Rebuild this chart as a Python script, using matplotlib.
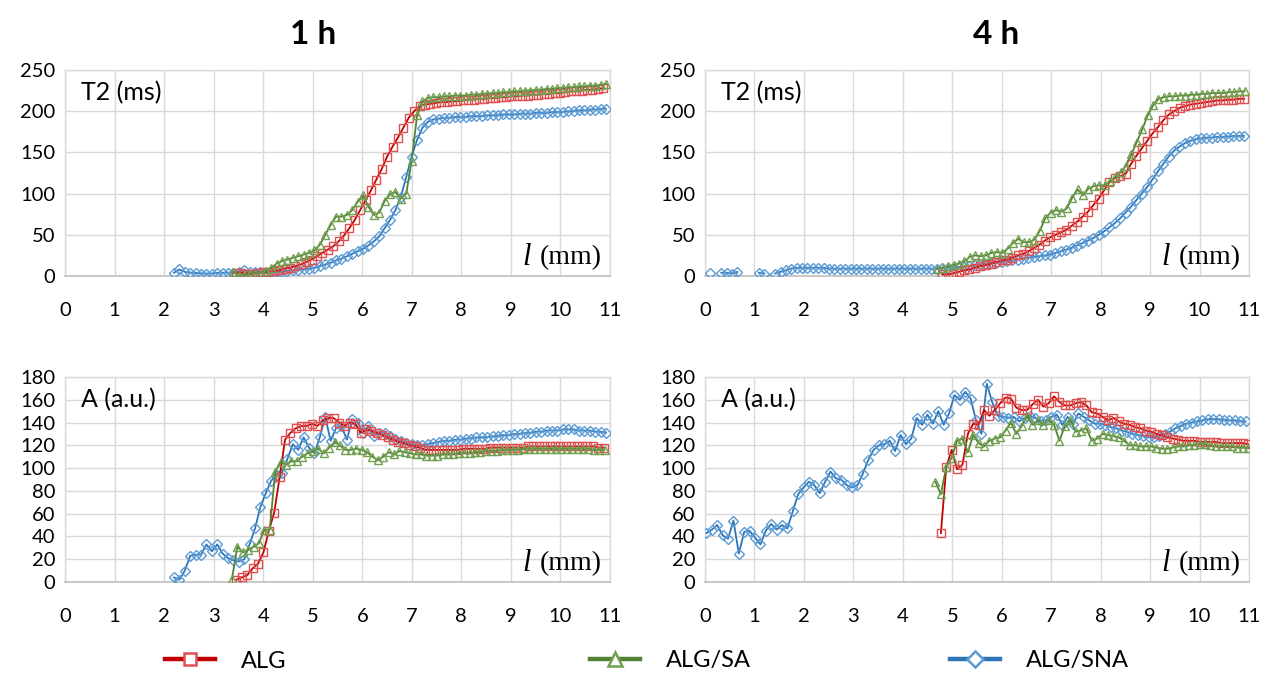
import numpy as np
import matplotlib
matplotlib.use("Agg")
import matplotlib.pyplot as plt
from matplotlib.lines import Line2D

STEP = 0.109
nan = np.nan

# ---------------- 1 h : T2 (ms) ----------------
t2_1h_alg_x0 = 3.45
t2_1h_alg = [4, 4, 3, 3, 4, 5, 5, 6, 7, 9, 10, 12, 14, 17, 20, 24, 28, 32, 36, 42,
             49, 58, 68, 80, 92, 104, 117, 130, 145, 157, 168, 180, 192, 200, 206, 208, 209, 210, 211, 211,
             212, 212, 213, 214, 214, 215, 215, 216, 216, 217, 217, 218, 218, 219, 219, 220, 220, 221, 221, 222,
             222, 223, 224, 224, 225, 226, 226, 227, 228]
t2_1h_sa_x0 = 3.40
t2_1h_sa = [5, 0, 1, 2, 3, 4, 6, 10, 15, 18, 20, 22, 24, 26, 28, 31, 38, 50, 62, 72,
            72, 74, 80, 90, 98, 84, 74, 77, 91, 99, 102, 94, 100, 140, 195, 212, 216, 217, 217, 218,
            218, 219, 219, 219, 220, 220, 221, 221, 222, 222, 223, 223, 224, 224, 225, 225, 226, 226, 227, 227,
            228, 228, 229, 229, 230, 230, 231, 231, 232, 233]
t2_1h_sna_x0 = 2.20
t2_1h_sna = [4, 8, 5, 4, 4, 3, 3, 3, 4, 4, 4, 4, 5, 7, 5, 5, 5, 4, 4, 5,
             5, 6, 7, 7, 8, 9, 10, 12, 14, 16, 19, 21, 24, 27, 30, 33, 37, 42, 48, 58,
             68, 80, 96, 120, 145, 165, 180, 187, 190, 191, 192, 192, 193, 193, 193, 194, 194, 194, 195, 195,
             195, 196, 196, 196, 197, 197, 197, 198, 198, 198, 199, 199, 199, 200, 200, 201, 201, 202, 202, 203,
             203]

# ---------------- 4 h : T2 (ms) ----------------
t2_4h_alg_x0 = 4.80
t2_4h_alg = [2, 2, 3, 5, 7, 8, 10, 12, 13, 15, 17, 19, 20, 22, 25, 27, 30, 34, 38, 43,
             47, 50, 53, 56, 61, 66, 72, 78, 86, 94, 104, 114, 119, 121, 124, 136, 146, 155, 164, 173,
             181, 189, 196, 200, 204, 206, 208, 209, 210, 211, 212, 213, 213, 214, 214, 215, 215]
t2_4h_sa_x0 = 4.70
t2_4h_sa = [9, 10, 12, 13, 15, 18, 23, 25, 24, 25, 28, 29, 28, 33, 40, 45, 41, 41, 44, 55,
            70, 77, 80, 78, 82, 95, 105, 98, 106, 109, 110, 110, 115, 120, 126, 134, 148, 163, 178, 195,
            207, 215, 217, 218, 218, 219, 219, 220, 220, 221, 221, 222, 222, 222, 223, 223, 224, 224]
t2_4h_sna_x0 = 0.11
t2_4h_sna = [4, nan, 4, 4, 3, 5, nan, nan, nan, 4, 3, nan, 3, 5, 7, 9, 10, 10, 10, 10,
             10, 10, 9, 9, 9, 9, 9, 9, 9, 9, 9, 9, 9, 9, 9, 9, 9, 9, 9, 9,
             9, 9, 9, 10, 10, 10, 11, 11, 12, 13, 14, 15, 16, 16, 17, 18, 19, 20, 21, 22,
             23, 24, 25, 26, 28, 30, 32, 34, 37, 40, 43, 46, 50, 54, 59, 64, 70, 77, 84, 92,
             100, 108, 117, 127, 136, 145, 152, 157, 161, 164, 166, 167, 168, 168, 169, 169, 169, 170, 170, 170]

# ---------------- 1 h : A (a.u.) ----------------
a_1h_alg_x0 = 3.46
a_1h_alg = [2, 4, 6, 12, 16, 26, 45, 61, 92, 125, 131, 135, 137, 137, 139, 137, 142, 144, 144, 140,
            137, 140, 139, 131, 134, 133, 131, 129, 127, 125, 123, 122, 120, 119, 118, 116, 116, 116, 116, 116,
            116, 116, 117, 117, 117, 117, 117, 118, 118, 118, 118, 118, 118, 118, 119, 119, 119, 119, 119, 119,
            119, 119, 119, 119, 119, 119, 119, 118, 118]
a_1h_sa_x0 = 3.37
a_1h_sa = [3, 31, 26, 28, 31, 34, 46, 46, 97, 105, 103, 106, 106, 110, 113, 115, 117, 113, 118, 123,
           120, 116, 116, 117, 116, 114, 110, 107, 110, 114, 112, 115, 114, 113, 112, 112, 111, 111, 111, 112,
           112, 112, 113, 113, 113, 114, 114, 115, 115, 115, 116, 116, 116, 116, 117, 117, 117, 117, 117, 117,
           117, 117, 117, 117, 117, 117, 117, 116, 116, 116]
a_1h_sna_x0 = 2.20
a_1h_sna = [4, 2, 10, 23, 24, 24, 33, 27, 33, 25, 21, 19, 18, 20, 33, 47, 66, 78, 89, 94,
            96, 108, 121, 116, 127, 118, 113, 127, 145, 124, 135, 137, 125, 143, 140, 131, 137, 128, 131, 131,
            128, 126, 124, 122, 121, 120, 120, 121, 122, 123, 124, 124, 125, 125, 126, 126, 127, 127, 127, 128,
            128, 129, 129, 130, 130, 131, 131, 132, 132, 133, 133, 133, 134, 134, 134, 133, 133, 133, 132, 132,
            131]

# ---------------- 4 h : A (a.u.) ----------------
a_4h_alg_x0 = 4.77
a_4h_alg = [43, 101, 116, 99, 103, 130, 139, 138, 151, 146, 151, 157, 162, 161, 153, 151, 151, 156, 160, 154,
            157, 163, 158, 155, 155, 157, 158, 155, 149, 148, 145, 142, 144, 141, 139, 138, 136, 135, 133, 132,
            130, 129, 127, 126, 125, 124, 124, 124, 123, 123, 123, 123, 122, 122, 122, 122, 122, 121]
a_4h_sa_x0 = 4.66
a_4h_sa = [88, 77, 101, 109, 124, 126, 114, 129, 122, 119, 124, 126, 127, 133, 140, 130, 137, 146, 138, 142,
           138, 142, 138, 124, 137, 142, 132, 133, 135, 124, 126, 130, 129, 128, 127, 124, 120, 120, 119, 119,
           119, 118, 117, 117, 118, 119, 119, 120, 120, 121, 121, 120, 119, 119, 119, 119, 118, 118, 118]
a_4h_sna_x0 = 0.03
a_4h_sna = [43, 46, 50, 41, 38, 54, 25, 44, 45, 39, 33, 45, 51, 46, 50, 47, 62, 77, 83, 88,
            85, 78, 88, 97, 91, 90, 85, 83, 85, 95, 107, 116, 120, 121, 124, 115, 129, 121, 126, 144,
            138, 147, 139, 150, 138, 148, 164, 160, 167, 161, 142, 130, 174, 158, 146, 145, 144, 145, 141, 144,
            146, 144, 141, 142, 145, 147, 138, 145, 139, 148, 145, 142, 139, 139, 138, 136, 135, 133, 132, 130,
            129, 128, 127, 127, 128, 130, 132, 135, 137, 139, 140, 141, 142, 143, 143, 143, 142, 142, 142, 141,
            141]

series_names = ["ALG", "ALG/SA", "ALG/SNA"]
x_ticks = list(range(0, 12))
t2_ticks = [0, 50, 100, 150, 200, 250]
a_ticks = [0, 20, 40, 60, 80, 100, 120, 140, 160, 180]

# ---------------- styling ----------------
W, H = 1264, 677
fig = plt.figure(figsize=(W / 100, H / 100), dpi=100)
FONT = ["Lato", "DejaVu Sans"]
SERIF = ["Liberation Serif", "DejaVu Serif"]

styles = {
    "ALG": dict(color="#C00000", marker="s", mec="#E05050", ms=5.4),
    "ALG/SA": dict(color="#548235", marker="^", mec="#70A050", ms=6.4),
    "ALG/SNA": dict(color="#2E75B6", marker="D", mec="#5B9BD5", ms=4.8),
}
GRID = "#D9D9D9"


def px_axes(x0, x1, ytop, ybot):
    return fig.add_axes([x0 / W, 1 - ybot / H, (x1 - x0) / W, (ybot - ytop) / H])


def series_x(x0, vals):
    return x0 + STEP * np.arange(len(vals))


def draw_panel(ax, data, yticks, label):
    for name in ["ALG/SNA", "ALG", "ALG/SA"]:
        x0, vals = data[name]
        st = styles[name]
        ax.plot(series_x(x0, vals), np.array(vals, dtype=float), color=st["color"], lw=1.3,
                marker=st["marker"], ms=st["ms"], mfc="none", mec=st["mec"], mew=1.0, zorder=3)
    ax.set_xlim(0, 11)
    ax.set_ylim(yticks[0], yticks[-1])
    ax.set_xticks(x_ticks)
    ax.set_yticks(yticks)
    ax.grid(True, color=GRID, lw=1.0, zorder=0)
    ax.set_axisbelow(True)
    for s in ["top", "right", "left"]:
        ax.spines[s].set_color(GRID)
        ax.spines[s].set_linewidth(1.0)
    ax.spines["bottom"].set_color("#BFBFBF")
    ax.spines["bottom"].set_linewidth(1.2)
    ax.tick_params(axis="both", length=0, labelsize=14.5, labelcolor="#000000")
    ax.tick_params(axis="x", pad=19)
    ax.tick_params(axis="y", pad=7)
    for t in ax.get_xticklabels() + ax.get_yticklabels():
        t.set_fontfamily(FONT)
    ax.text(0.03, 0.89, label, transform=ax.transAxes, fontsize=18, family=FONT,
            ha="left", va="center")
    ax.text(0.985, 0.09, "(mm)", transform=ax.transAxes, fontsize=20,
            family=SERIF, ha="right", va="center")
    ax.text(0.985 - 0.13, 0.09, "l", transform=ax.transAxes, fontsize=22,
            family=SERIF, style="italic", ha="right", va="center")


ax_tl = px_axes(65, 610, 70, 276)
ax_tr = px_axes(705, 1249, 70, 276)
ax_bl = px_axes(65, 610, 377, 582)
ax_br = px_axes(705, 1249, 377, 582)

draw_panel(ax_tl, {"ALG": (t2_1h_alg_x0, t2_1h_alg), "ALG/SA": (t2_1h_sa_x0, t2_1h_sa),
                   "ALG/SNA": (t2_1h_sna_x0, t2_1h_sna)}, t2_ticks, "T2 (ms)")
draw_panel(ax_tr, {"ALG": (t2_4h_alg_x0, t2_4h_alg), "ALG/SA": (t2_4h_sa_x0, t2_4h_sa),
                   "ALG/SNA": (t2_4h_sna_x0, t2_4h_sna)}, t2_ticks, "T2 (ms)")
draw_panel(ax_bl, {"ALG": (a_1h_alg_x0, a_1h_alg), "ALG/SA": (a_1h_sa_x0, a_1h_sa),
                   "ALG/SNA": (a_1h_sna_x0, a_1h_sna)}, a_ticks, "A (a.u.)")
draw_panel(ax_br, {"ALG": (a_4h_alg_x0, a_4h_alg), "ALG/SA": (a_4h_sa_x0, a_4h_sa),
                   "ALG/SNA": (a_4h_sna_x0, a_4h_sna)}, a_ticks, "A (a.u.)")

fig.text(313 / W, 1 - 35 / H, "1 h", fontsize=24, fontweight="bold", family=FONT, ha="center", va="center")
fig.text(996 / W, 1 - 35 / H, "4 h", fontsize=24, fontweight="bold", family=FONT, ha="center", va="center")

# legend: three separate entries
leg_pos = {"ALG": 165, "ALG/SA": 590, "ALG/SNA": 950}
for name in series_names:
    st = styles[name]
    h = Line2D([], [], color=st["color"], lw=3.2, marker=st["marker"], ms=st["ms"] * 1.6,
               mfc="white", mec=st["mec"], mew=1.8)
    fig.legend([h], [name], loc="center left", bbox_to_anchor=(leg_pos[name] / W, 1 - 661 / H),
               frameon=False, handlelength=2.1, handletextpad=1.1, borderaxespad=0, borderpad=0,
               prop={"family": FONT, "size": 17})

fig.savefig("out.png", dpi=100)
